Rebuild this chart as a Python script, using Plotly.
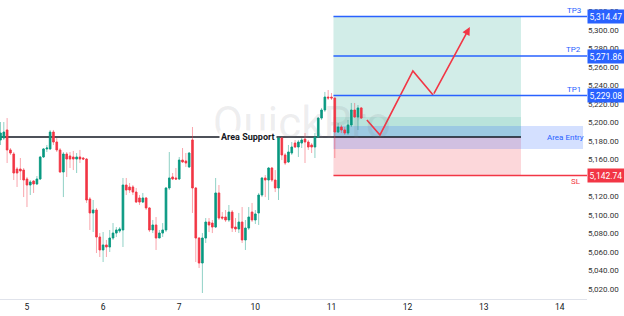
import plotly.graph_objects as go

# ---------------- data ----------------
opens = [5181.1,5183.2,5191.9,5170.3,5165.9,5149.7,5149.7,5148.6,5138.9,5132.4,
         5136.7,5133.5,5138.9,5162.7,5171.4,5171.4,5189.7,5178.9,5170.3,5146.5,
         5165.9,5163.8,5162.7,5160.5,5162.7,5161.6,5160.5,5117.3,5102.2,5105.4,
         5076.2,5062.2,5067.6,5065.4,5075.1,5080.5,5082.7,5083.8,5132.4,5130.3,
         5130.3,5124.8,5118.4,5114.0,5118.4,5107.6,5083.8,5089.2,5075.1,5080.5,
         5083.8,5129.2,5141.1,5140.0,5138.9,5159.4,5158.4,5151.9,5181.1,5129.2,
         5075.1,5048.1,5075.1,5092.4,5091.3,5087.0,5123.8,5097.8,5097.8,5094.6,
         5103.2,5087.0,5084.9,5092.4,5073.0,5085.9,5103.2,5094.6,5102.2,5121.6,
         5140.0,5137.8,5150.8,5137.8,5129.2,5183.2,5164.9,5157.3,5167.0,5177.8,
         5173.5,5177.8,5182.1,5178.9,5175.7,5173.5,5184.3,5204.8,5213.5,5227.5,
         5227.5,5226.5,5189.7,5195.1,5191.9,5188.6,5197.3,5213.5,5205.9,5215.7]
highs = [5200.5,5200.5,5204.8,5172.4,5168.1,5151.9,5161.6,5150.8,5141.1,5137.8,
         5137.8,5142.1,5163.8,5172.4,5175.7,5191.9,5191.9,5183.2,5172.4,5168.1,
         5168.1,5168.1,5169.2,5167.0,5170.3,5162.7,5161.6,5119.4,5116.2,5107.6,
         5080.5,5081.6,5073.0,5083.8,5091.3,5087.0,5087.0,5140.0,5140.0,5134.6,
         5132.4,5129.2,5121.6,5123.8,5119.4,5108.6,5094.6,5097.8,5083.8,5091.3,
         5130.3,5168.1,5145.4,5150.8,5162.7,5172.4,5167.0,5168.1,5195.1,5130.3,
         5076.2,5080.5,5096.7,5096.7,5094.6,5140.0,5132.4,5103.2,5105.4,5110.8,
         5105.4,5096.7,5102.2,5108.6,5094.6,5108.6,5113.0,5105.4,5123.8,5141.1,
         5143.2,5151.9,5151.9,5148.6,5184.3,5184.3,5167.0,5175.7,5178.9,5181.1,
         5181.1,5183.2,5188.6,5181.1,5177.8,5188.6,5205.9,5215.7,5233.0,5235.1,
         5231.9,5226.5,5199.4,5197.3,5195.1,5202.7,5221.1,5221.1,5218.9,5216.7]
lows = [5175.7,5181.1,5156.2,5164.9,5137.8,5130.3,5137.8,5119.4,5108.6,5121.6,
        5123.8,5132.4,5137.8,5161.6,5168.1,5170.3,5175.7,5168.1,5145.4,5119.4,
        5141.1,5150.8,5148.6,5145.4,5156.2,5159.4,5113.0,5083.8,5081.6,5058.9,
        5054.6,5049.2,5054.6,5060.0,5073.0,5076.2,5080.5,5065.4,5121.6,5123.8,
        5121.6,5113.0,5110.8,5113.0,5105.4,5081.6,5080.5,5062.2,5075.1,5076.2,
        5081.6,5127.0,5137.8,5137.8,5137.8,5156.2,5151.9,5150.8,5102.2,5049.2,
        5042.7,5015.7,5069.7,5081.6,5080.5,5085.9,5094.6,5094.6,5092.4,5092.4,
        5081.6,5081.6,5080.5,5069.7,5062.2,5083.8,5092.4,5090.3,5089.2,5119.4,
        5119.4,5116.2,5135.7,5124.8,5116.2,5159.4,5154.0,5156.2,5164.9,5172.4,
        5162.7,5172.4,5156.2,5170.3,5167.0,5161.6,5183.2,5202.7,5211.3,5224.3,
        5224.3,5161.6,5188.6,5188.6,5186.5,5186.5,5195.1,5204.8,5191.9,5203.8]
closes = [5188.6,5189.7,5170.3,5167.0,5145.4,5145.4,5147.6,5137.8,5132.4,5135.7,
          5133.5,5138.9,5162.7,5171.4,5172.4,5189.7,5178.9,5170.3,5146.5,5165.9,
          5160.5,5160.5,5160.5,5162.7,5160.5,5160.5,5116.2,5102.2,5105.4,5076.2,
          5062.2,5067.6,5065.4,5075.1,5080.5,5083.8,5084.9,5132.4,5127.0,5127.0,
          5124.8,5114.0,5114.0,5118.4,5107.6,5083.8,5089.2,5075.1,5080.5,5083.8,
          5129.2,5140.0,5138.9,5138.9,5159.4,5157.3,5156.2,5167.0,5129.2,5075.1,
          5048.1,5075.1,5092.4,5089.2,5087.0,5123.8,5096.7,5096.7,5094.6,5103.2,
          5085.9,5084.9,5092.4,5073.0,5085.9,5097.8,5094.6,5101.1,5121.6,5140.0,
          5137.8,5150.8,5137.8,5129.2,5183.2,5164.9,5156.2,5168.1,5173.5,5173.5,
          5178.9,5181.1,5178.9,5173.5,5173.5,5184.3,5204.8,5213.5,5227.5,5226.5,
          5226.5,5189.7,5195.1,5191.9,5188.6,5197.3,5213.5,5205.9,5215.7,5204.8]

day_labels = ["5", "6", "7", "10", "11", "12", "13", "14"]
candles_per_day = 23
first_day_index = 8

area_support = 5184.3
tp_levels = {"TP1": 5229.08, "TP2": 5271.86, "TP3": 5314.47}
sl_level = 5142.74
entry_zone = (5171.4, 5196.2)
entry_inner = 5205.9
projection_x = [110.7, 114.65, 124.6, 130.7, 141.8]
projection_y = [5202.7, 5186.5, 5255.7, 5229.7, 5303.2]

# ---------------- figure ----------------
x = list(range(len(opens)))
body_hi = [max(o, c) for o, c in zip(opens, closes)]
body_lo = [min(o, c) for o, c in zip(opens, closes)]

UP, DN = "#089981", "#F23645"
BLUE = "#2962FF"

fig = go.Figure()
# wicks (pale)
fig.add_trace(go.Candlestick(
    x=x, open=opens, high=highs, low=lows, close=closes,
    increasing=dict(line=dict(color="rgba(8,153,129,0.45)", width=1), fillcolor="rgba(8,153,129,0.45)"),
    decreasing=dict(line=dict(color="rgba(242,54,69,0.45)", width=1), fillcolor="rgba(242,54,69,0.45)"),
    whiskerwidth=0, showlegend=False, hoverinfo="skip"))
# bodies (solid)
fig.add_trace(go.Candlestick(
    x=x, open=opens, high=body_hi, low=body_lo, close=closes,
    increasing=dict(line=dict(color=UP, width=0.6), fillcolor=UP),
    decreasing=dict(line=dict(color=DN, width=0.6), fillcolor=DN),
    whiskerwidth=0, showlegend=False))

box_x0, box_x1, right_x = 100.6, 157.25, 177.2
shapes = []
# position boxes
shapes.append(dict(type="rect", x0=box_x0, x1=box_x1, y0=area_support, y1=tp_levels["TP3"],
                   fillcolor="rgba(8,153,129,0.18)", line=dict(width=0), layer="below"))
shapes.append(dict(type="rect", x0=box_x0, x1=box_x1, y0=area_support, y1=entry_inner,
                   fillcolor="rgba(8,153,129,0.12)", line=dict(width=0), layer="below"))
shapes.append(dict(type="rect", x0=box_x0, x1=box_x1, y0=sl_level, y1=area_support,
                   fillcolor="rgba(242,54,69,0.2)", line=dict(width=0), layer="below"))
shapes.append(dict(type="rect", x0=box_x0, x1=176.0, y0=entry_zone[0], y1=entry_zone[1],
                   fillcolor="rgba(41,98,255,0.2)", line=dict(width=0), layer="below"))
# lines
shapes.append(dict(type="line", x0=-1, x1=box_x1, y0=area_support, y1=area_support,
                   line=dict(color="#131722", width=1.5), layer="below"))
for name, lv in tp_levels.items():
    shapes.append(dict(type="line", x0=box_x0, x1=right_x, y0=lv, y1=lv,
                       line=dict(color=BLUE, width=1.5)))
shapes.append(dict(type="line", x0=box_x0, x1=right_x, y0=sl_level, y1=sl_level,
                   line=dict(color=DN, width=1.5)))

# projection path
fig.add_trace(go.Scatter(x=projection_x[:-1], y=projection_y[:-1], mode="lines",
                         line=dict(color=DN, width=1.6), showlegend=False, hoverinfo="skip"))

ann = []
ann.append(dict(x=projection_x[-1], y=projection_y[-1], ax=projection_x[-2], ay=projection_y[-2],
                xref="x", yref="y", axref="x", ayref="y", text="", showarrow=True,
                arrowhead=2, arrowsize=1, arrowwidth=1.6, arrowcolor=DN))
# watermark
ann.append(dict(x=91, y=5199, xref="x", yref="y", text="QuickPro", showarrow=False,
                font=dict(family="Roboto", size=44, color="rgba(120,123,134,0.13)")))
ann.append(dict(x=74.8, y=area_support, xref="x", yref="y", text="<b>Area Support</b>",
                showarrow=False, bgcolor="white", borderpad=1,
                font=dict(family="Roboto", size=9, color="#131722")))
for name, lv in tp_levels.items():
    ann.append(dict(x=1, y=lv, xref="paper", yref="y", text=name, showarrow=False,
                    xanchor="right", yanchor="bottom", xshift=-4, yshift=0,
                    font=dict(family="Roboto", size=8, color=BLUE)))
    ann.append(dict(x=1, y=lv, xref="paper", yref="y", text=f"{lv:,.2f}", showarrow=False,
                    xanchor="left", yanchor="middle", bgcolor=BLUE, borderpad=1.5,
                    font=dict(family="Roboto", size=8.5, color="white")))
ann.append(dict(x=1, y=sl_level, xref="paper", yref="y", text="SL", showarrow=False,
                xanchor="right", yanchor="top", xshift=-4,
                font=dict(family="Roboto", size=8, color=DN)))
ann.append(dict(x=1, y=sl_level, xref="paper", yref="y", text=f"{sl_level:,.2f}", showarrow=False,
                xanchor="left", yanchor="middle", bgcolor=DN, borderpad=1.5,
                font=dict(family="Roboto", size=8.5, color="white")))
ann.append(dict(x=170.8, y=sum(entry_zone) / 2, xref="x", yref="y", text="Area Entry",
                showarrow=False, font=dict(family="Roboto", size=8, color=BLUE)))

tickvals = [first_day_index + candles_per_day * k for k in range(len(day_labels))]

fig.update_layout(
    width=624, height=316, margin=dict(l=0, r=37, t=0, b=17),
    paper_bgcolor="white", plot_bgcolor="white",
    shapes=shapes, annotations=ann,
    font=dict(family="Roboto", color="#131722"),
    xaxis=dict(range=[-0.15, right_x], tickvals=tickvals, ticktext=day_labels,
               showgrid=False, zeroline=False, showline=True, linecolor="#e0e3eb",
               ticks="", tickfont=dict(size=8.5, color="#131722"),
               rangeslider=dict(visible=False), fixedrange=True),
    yaxis=dict(range=[5009.2, 5332.4], side="right", dtick=20, tick0=5000,
               tickformat=",.2f", showgrid=False, zeroline=False, showline=False,
               ticks="", tickfont=dict(size=8, color="#333333")),
)

fig.write_html("out.html")
